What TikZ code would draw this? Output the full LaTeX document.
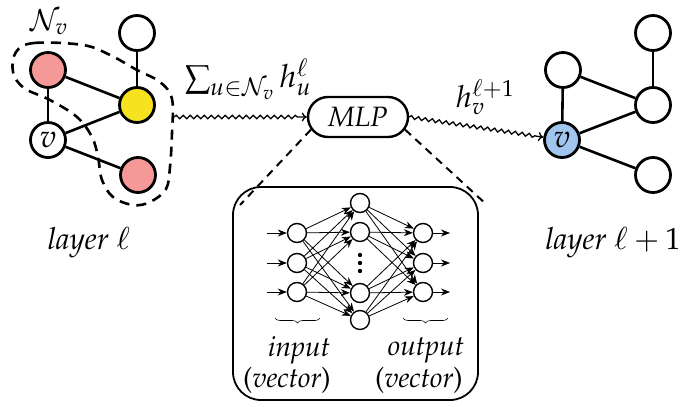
\documentclass[tikz,border=0pt]{standalone}
\usepackage[T1]{fontenc}
\usepackage{mathpazo}
\usetikzlibrary{arrows.meta,decorations.pathmorphing,decorations.pathreplacing,shapes.misc}

\definecolor{nbpink}{RGB}{245,152,152}
\definecolor{nbyellow}{RGB}{247,226,32}
\definecolor{nbblue}{RGB}{162,197,240}

\tikzset{
  gnode/.style={circle, draw, line width=2.8pt, minimum size=35pt, inner sep=0pt,
                font=\fontsize{32}{34}\selectfont},
  gedge/.style={line width=2.6pt},
  hull/.style={line width=2.6pt, dash pattern=on 10pt off 7pt},
  nnode/.style={circle, draw, line width=1.4pt, minimum size=19pt, inner sep=0pt},
  nnedge/.style={line width=0.8pt, -{Stealth[length=9pt,width=7pt]}},
  wavy/.style={line width=1.3pt, -{To[length=5pt,width=9pt]}, decorate,
               decoration={snake, amplitude=1.7pt, segment length=7pt, post length=6pt}},
  lbl/.style={font=\fontsize{30.5}{34}\selectfont, inner sep=1pt},
  mlplbl/.style={font=\fontsize{28}{32}\selectfont},
  smalllbl/.style={font=\fontsize{28}{30}\selectfont, inner sep=1pt},
}

\begin{document}
\begin{tikzpicture}[x=1pt,y=-1pt]
\useasboundingbox (0,0) rectangle (683,407);

% ---------- layer l graph ----------
\node[gnode, fill=nbpink]   (a1) at (48,70)   {};
\node[gnode]                (a2) at (137,33)  {};
\node[gnode, fill=nbyellow] (a3) at (137,105) {};
\node[gnode]                (av) at (48,140)  {$v$};
\node[gnode, fill=nbpink]   (a4) at (138,175) {};
\draw[gedge] (a1) -- (av);
\draw[gedge] (a1) -- (a3);
\draw[gedge] (av) -- (a3);
\draw[gedge] (a2) -- (a3);
\draw[gedge] (av) -- (a4);

% neighbourhood N_v
\draw[hull] plot[smooth cycle, tension=0.6] coordinates {
  (16,52) (34,43) (83,45) (110,55) (137,70) (160,82) (172,99) (172,133)
  (170,167) (166,189) (150,202) (133,205) (113,197) (102,180) (98,157)
  (92,137) (77,117) (50,100) (24,88) (13,72)};
\node[lbl, inner sep=0pt, font=\fontsize{29}{32}\selectfont] (nv) at (49,22) {$\mathcal{N}_v$};
\node[lbl] (l1) at (89,243) {\textit{layer} $\ell$};

% ---------- layer l+1 graph ----------
\node[gnode]             (b1) at (563,70)  {};
\node[gnode]             (b2) at (653,33)  {};
\node[gnode]             (b3) at (653,105) {};
\node[gnode, fill=nbblue] (bv) at (562,140) {$v$};
\node[gnode]             (b4) at (653,175) {};
\draw[gedge] (b1) -- (bv);
\draw[gedge] (b1) -- (b3);
\draw[gedge] (bv) -- (b3);
\draw[gedge] (b2) -- (b3);
\draw[gedge] (bv) -- (b4);
\node[lbl] (l2) at (613,243) {\textit{layer} $\ell+1$};

% ---------- MLP and messages ----------
\node[rounded rectangle, draw, line width=2.4pt, minimum width=100pt, minimum height=40pt,
      inner sep=0pt, mlplbl] (mlp) at (358,117) {\textit{MLP}};
\coordinate (hullR) at (174,117);
\draw[wavy] (hullR) -- (mlp.west);
\draw[wavy] (mlp.east) -- (bv);
\node[lbl, font=\fontsize{32}{34}\selectfont] (agg) at (248,79) {$\sum_{u\in\mathcal{N}_v} h_u^{\ell}$};
\node[lbl] (upd) at (485,97) {$h_v^{\ell+1}$};

% ---------- zoomed MLP ----------
\node[draw, line width=1.8pt, rounded corners=28pt, minimum width=245pt, minimum height=213pt]
  (box) at (355.5,293.5) {};
\coordinate (zl) at (240,205);
\coordinate (zr) at (487,205);
\draw[hull, line width=2pt, dash pattern=on 8pt off 6pt] (mlp.195) -- (zl);
\draw[hull, line width=2pt, dash pattern=on 8pt off 6pt] (mlp.-15) -- (zr);

\foreach \i/\y in {1/233,2/263,3/292} {
  \node[nnode] (i\i) at (297,\y) {};
  \node[nnode] (o\i) at (423,\y) {};
}
\foreach \j/\y in {1/203,2/232,3/293,4/320} {
  \node[nnode] (h\j) at (360,\y) {};
}
\foreach \d in {255,263,271} \fill (360,\d) circle (2.2pt);

\foreach \i in {1,2,3} {
  \foreach \j in {1,2,3,4} {
    \draw[nnedge] (i\i) -- (h\j);
    \draw[nnedge] (h\j) -- (o\i);
  }
}
\foreach \i/\y in {1/233,2/263,3/292} {
  \coordinate (in\i) at (267,\y);
  \coordinate (out\i) at (450,\y);
  \draw[nnedge] (in\i) -- (i\i);
  \draw[nnedge] (o\i) -- (out\i);
}

\draw[line width=0.6pt, decorate, decoration={brace, mirror, amplitude=5pt}]
  (275,318) -- (320,318);
\draw[line width=0.6pt, decorate, decoration={brace, mirror, amplitude=5pt}]
  (403,318) -- (448,318);
\node[smalllbl] (tin)  at (299,350) {\textit{input}};
\node[smalllbl] (tinv) at (287,380) {(\textit{vector})};
\node[smalllbl] (tout) at (426,350) {\textit{output}};
\node[smalllbl] (toutv) at (419,380) {(\textit{vector})};
\end{tikzpicture}
\end{document}
